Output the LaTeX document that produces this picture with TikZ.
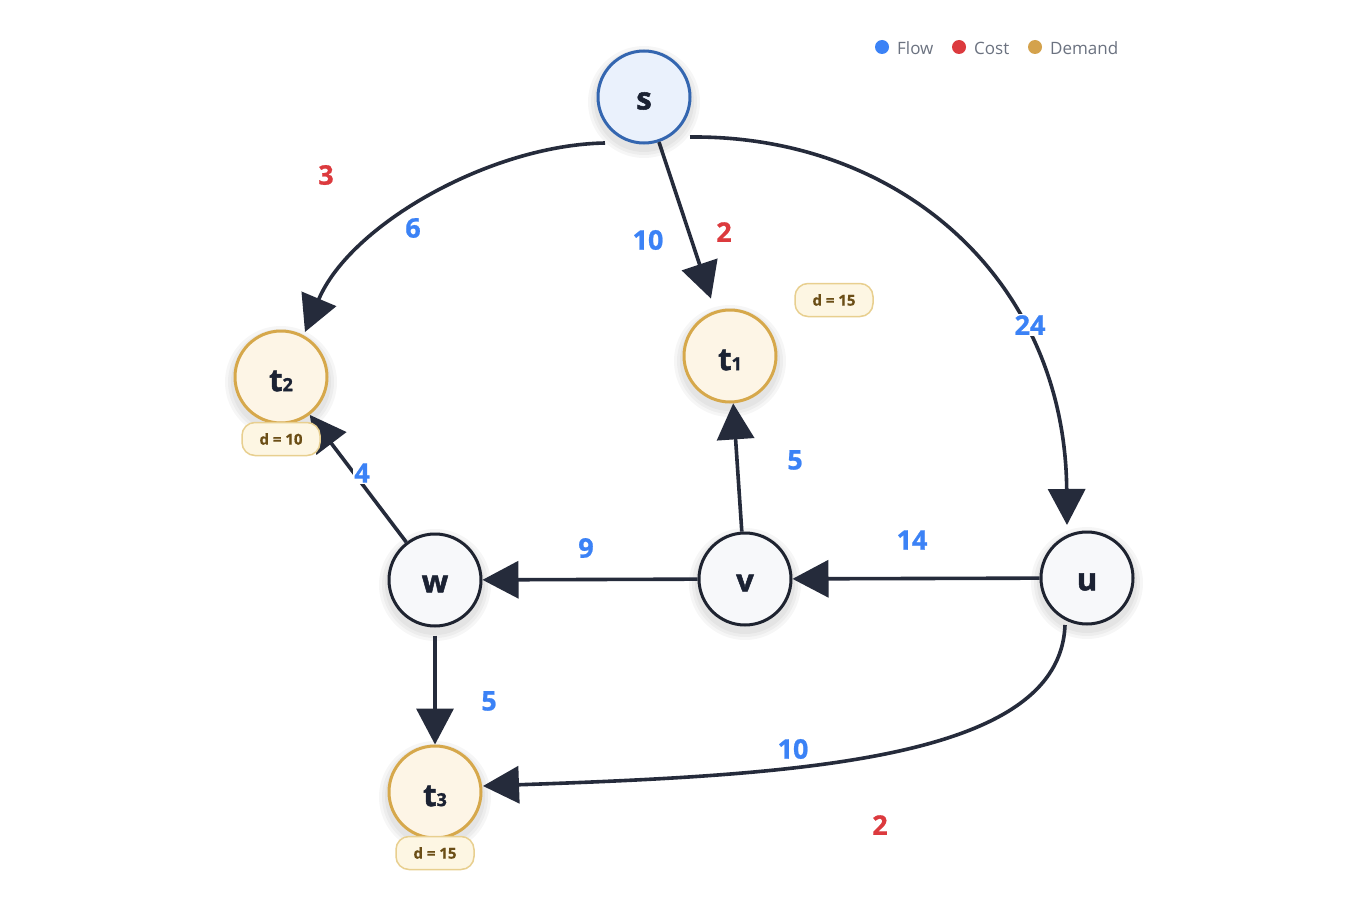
\documentclass[tikz,border=0pt]{standalone}
\usepackage{fontspec}
\setmainfont{Open Sans}
\newfontface\heavyfont{Open Sans Bold}[FakeBold=1.6]
\newfontface\semiheavy{Open Sans Bold}[FakeBold=0.8]
\usetikzlibrary{arrows.meta,calc}
\definecolor{edgec}{HTML}{252B3B}
\definecolor{txt}{HTML}{1B2233}
\definecolor{srcborder}{HTML}{3466B0}
\definecolor{srcfill}{HTML}{EAF1FC}
\definecolor{sinkborder}{HTML}{D6A84B}
\definecolor{sinkfill}{HTML}{FDF5E6}
\definecolor{midborder}{HTML}{1E2330}
\definecolor{midfill}{HTML}{F7F8FA}
\definecolor{flowc}{HTML}{3B82F6}
\definecolor{costc}{HTML}{DC3A3E}
\definecolor{demc}{HTML}{D4A24C}
\definecolor{badgeborder}{HTML}{E8CF8F}
\definecolor{badgefill}{HTML}{FDF6E3}
\definecolor{badgetext}{HTML}{6B4E16}
\definecolor{legtext}{HTML}{6B7280}
\begin{document}
\begin{tikzpicture}[x=1pt,y=-1pt,
  basenode/.style={circle, minimum size=92pt, inner sep=0pt, line width=3pt,
    font=\fontsize{31}{32}\heavyfont, text=txt},
  srcnode/.style={basenode, draw=srcborder, fill=srcfill},
  sinknode/.style={basenode, draw=sinkborder, fill=sinkfill},
  midnode/.style={basenode, draw=midborder, fill=midfill},
  edge/.style={draw=edgec, line width=3.6pt,
    -{Triangle[length=36pt,width=37pt]}},
  flowlbl/.style={fill=white, inner sep=1pt, text=flowc,
    font=\fontsize{27}{28}\semiheavy},
  costlbl/.style={fill=white, inner sep=1pt, text=costc,
    font=\fontsize{27}{28}\semiheavy},
  badge/.style={rounded corners=13pt, draw=badgeborder, fill=badgefill,
    line width=1.5pt, minimum width=78pt, minimum height=33pt, inner sep=0pt,
    text=badgetext, font=\fontsize{15}{16}\semiheavy},
  legdot/.style={circle, inner sep=0pt, minimum size=14pt},
  legtxt/.style={anchor=west, inner sep=0pt, text=legtext,
    font=\fontsize{17}{18}\selectfont},
  shadowring/.style={fill=black, opacity=0.035}
]
\useasboundingbox[fill=white] (0,0) rectangle (1350,899);

\newcommand{\subn}[1]{{\fontsize{18}{18}\heavyfont #1}}
\newcommand{\lowr}[1]{\raisebox{-4pt}[\height][\depth]{#1}}

% soft shadows
\foreach \px/\py in {644/97, 281/377, 730/356, 435/580, 745/579, 1087/578, 435/792}{
  \foreach \rr in {56,53,50}{
    \fill[shadowring] (\px,\py+5) circle (\rr);
  }
}

% nodes
\node[srcnode]  (s)  at (644,97)  {\lowr{s}};
\node[sinknode] (t2) at (281,377) {\lowr{t\subn{2}}};
\node[sinknode] (t1) at (730,356) {\lowr{t\subn{1}}};
\node[midnode]  (w)  at (435,580) {\lowr{w}};
\node[midnode]  (v)  at (745,579) {\lowr{v}};
\node[midnode]  (u)  at (1087,578) {\lowr{u}};
\node[sinknode] (t3) at (435,792) {\lowr{t\subn{3}}};

% edges
\draw[edge] ([shift={(-39,46)}]s.center) .. controls (490,145) and (350,225) .. ([shift={(24,-45)}]t2.center);
\draw[edge, shorten >=13pt] (s) -- (t1);
\draw[edge] ([shift={(46,40)}]s.center) .. controls (900,135) and (1065,280) .. ([shift={(-20,-53)}]u.center);
\draw[edge] (u) -- (v);
\draw[edge] (v) -- (t1);
\draw[edge] (v) -- (w);
\draw[edge] (w) -- (t2);
\draw[edge, shorten <=8pt] (w) -- (t3);
\draw[edge] ([shift={(-22,47)}]u.center) .. controls (1060,760) and (800,775) .. ([shift={(48,-6)}]t3.center);

% badges
\node[badge] (b2) at (281,439) {d = 10};
\node[badge] (b1) at (834,300) {d = 15};
\node[badge] (b3) at (435,853) {d = 15};

% labels
\node[costlbl] (c1) at (326,175) {3};
\node[flowlbl] (f1) at (413,228) {6};
\node[flowlbl] (f2) at (648,240) {10};
\node[costlbl] (c2) at (724,232) {2};
\node[flowlbl] (f3) at (1030,325) {24};
\node[flowlbl] (f4) at (795,460) {5};
\node[flowlbl] (f5) at (912,540) {14};
\node[flowlbl] (f6) at (586,548) {9};
\node[flowlbl] (f7) at (362,473) {4};
\node[flowlbl] (f8) at (489,701) {5};
\node[flowlbl] (f9) at (793,749) {10};
\node[costlbl] (c3) at (880,825) {2};

% legend
\node[legdot, fill=flowc] (ld1) at (882,47) {};
\node[legtxt] (lt1) at (897,48) {Flow};
\node[legdot, fill=costc] (ld2) at (959,47) {};
\node[legtxt] (lt2) at (974,48) {Cost};
\node[legdot, fill=demc] (ld3) at (1035,47) {};
\node[legtxt] (lt3) at (1050,48) {Demand};
\end{tikzpicture}
\end{document}
